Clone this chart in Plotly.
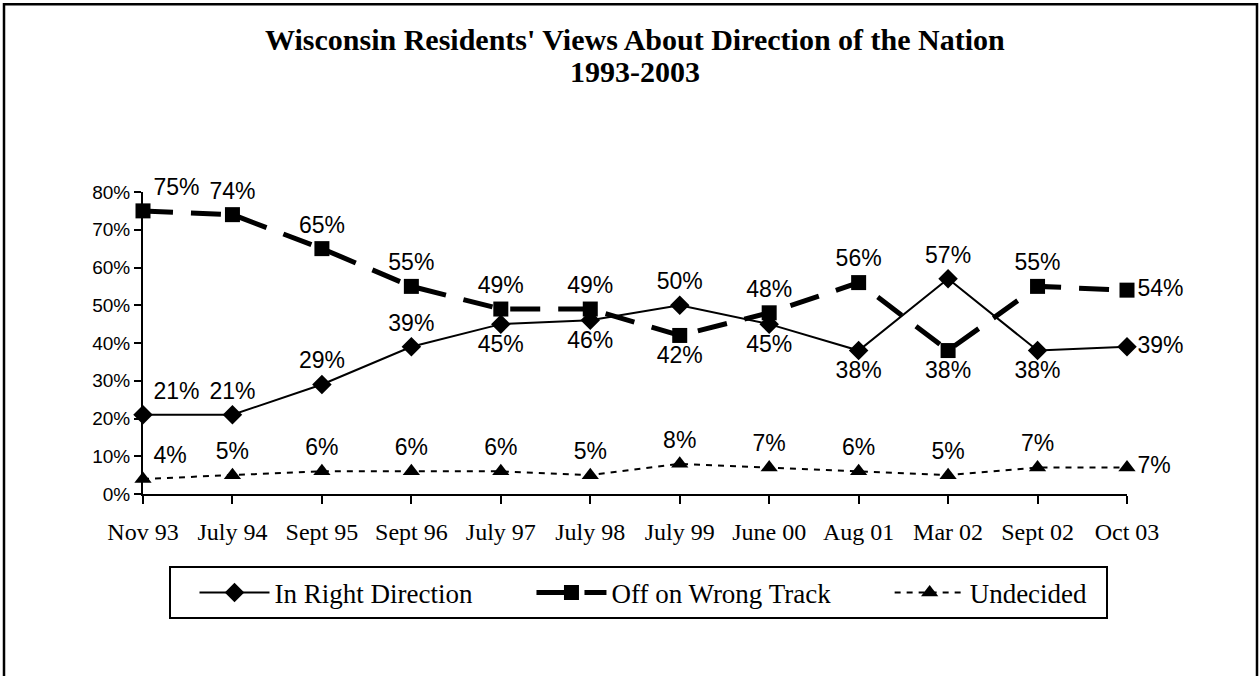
import plotly.graph_objects as go

categories = ["Nov 93", "July 94", "Sept 95", "Sept 96", "July 97", "July 98",
              "July 99", "June 00", "Aug 01", "Mar 02", "Sept 02", "Oct 03"]
right_direction = [21, 21, 29, 39, 45, 46, 50, 45, 38, 57, 38, 39]
wrong_track = [75, 74, 65, 55, 49, 49, 42, 48, 56, 38, 55, 54]
undecided = [4, 5, 6, 6, 6, 5, 8, 7, 6, 5, 7, 7]
y_ticks = [0, 10, 20, 30, 40, 50, 60, 70, 80]

right_pos = ["top right", "top center", "top center", "top center", "bottom center", "bottom center",
             "top center", "bottom center", "bottom center", "top center", "bottom center", "middle right"]
wrong_pos = ["top right", "top center", "top center", "top center", "top center", "top center",
             "bottom center", "top center", "top center", "bottom center", "top center", "middle right"]
und_pos = ["top right"] + ["top center"] * 10 + ["middle right"]

LABEL_FONT = dict(family="Liberation Sans, Arial, sans-serif", size=23, color="black")
SERIF = "Liberation Serif, Times New Roman, serif"
NB = "\u00a0"

fig = go.Figure()
fig.add_trace(go.Scatter(
    x=categories, y=right_direction, name="In Right Direction" + NB * 8,
    mode="lines+markers+text",
    line=dict(color="black", width=2),
    marker=dict(symbol="diamond", size=15, color="black"),
    text=[f"{v}%" for v in right_direction], textposition=right_pos,
    textfont=LABEL_FONT, cliponaxis=False,
))
fig.add_trace(go.Scatter(
    x=categories, y=wrong_track, name="Off on Wrong Track" + NB * 8,
    mode="lines+markers+text",
    line=dict(color="black", width=5, dash="30px,18px"),
    marker=dict(symbol="square", size=15, color="black"),
    text=[f"{v}%" for v in wrong_track], textposition=wrong_pos,
    textfont=LABEL_FONT, cliponaxis=False,
))
fig.add_trace(go.Scatter(
    x=categories, y=undecided, name="Undecided" + NB * 2,
    mode="lines+markers+text",
    line=dict(color="black", width=2, dash="6px,6px"),
    marker=dict(symbol="triangle-up", size=15, color="black"),
    text=[f"{v}%" for v in undecided], textposition=und_pos,
    textfont=LABEL_FONT, cliponaxis=False,
))

W, H = 1260, 676
X0, X1, Y0, Y1 = 143, 1127, 192, 494.5
L, R, T, B = X0, W - X1, Y0, H - Y1
pw = X1 - X0
ph = Y1 - Y0

def px_x(x):
    return (x - X0) / pw

def px_y(y):
    return (Y1 - y) / ph

fig.update_layout(
    width=W, height=H,
    margin=dict(l=L, r=R, t=T, b=B, autoexpand=False),
    paper_bgcolor="white", plot_bgcolor="white",
    showlegend=True,
    legend=dict(
        orientation="h", x=px_x(169), y=px_y(567), xanchor="left", yanchor="top",
        bordercolor="black", borderwidth=2, bgcolor="white",
        font=dict(family=SERIF, size=27, color="black"),
        itemwidth=70,
        title=dict(text=NB * 2, side="left", font=dict(family=SERIF, size=27, color="black")),
    ),
    xaxis=dict(
        type="category", categoryorder="array", categoryarray=categories,
        range=[0, len(categories) - 1],
        showline=True, linecolor="black", linewidth=2,
        ticks="outside", ticklen=8, tickwidth=2, tickcolor="black",
        showgrid=False, zeroline=False, ticklabelstandoff=7,
        tickfont=dict(family=SERIF, size=24, color="black"),
    ),
    yaxis=dict(
        range=[0, 80], tickvals=y_ticks, ticktext=[f"{v}%" for v in y_ticks],
        showline=True, linecolor="black", linewidth=2,
        ticks="outside", ticklen=7, tickwidth=2, tickcolor="black",
        showgrid=False, zeroline=False,
        tickfont=dict(family="Liberation Sans, Arial, sans-serif", size=19, color="black"),
    ),
    annotations=[
        dict(text="<b>Wisconsin Residents' Views About Direction of the Nation</b>",
             xref="paper", yref="paper", x=0.5, y=px_y(39), xanchor="center", yanchor="middle",
             showarrow=False, font=dict(family=SERIF, size=30, color="black")),
        dict(text="<b>1993-2003</b>",
             xref="paper", yref="paper", x=0.5, y=px_y(71), xanchor="center", yanchor="middle",
             showarrow=False, font=dict(family=SERIF, size=30, color="black")),
    ],
    shapes=[
        dict(type="rect", xref="paper", yref="paper",
             x0=px_x(4), x1=px_x(1257), y0=px_y(700), y1=px_y(4),
             line=dict(color="black", width=2.5), fillcolor="rgba(0,0,0,0)", layer="below"),
    ],
)

fig.write_html("out.html", config={"displayModeBar": False},
               post_script="document.body.style.margin='0';")
